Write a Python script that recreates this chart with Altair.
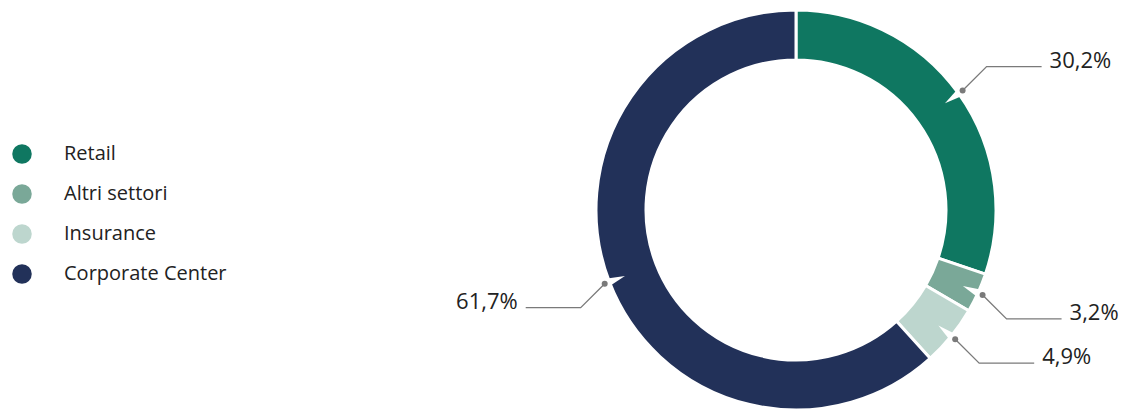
import math
import pandas as pd
import altair as alt

# ---- data ----
categories = ["Retail", "Altri settori", "Insurance", "Corporate Center"]
values = [30.2, 3.2, 4.9, 61.7]
labels = ["30,2%", "3,2%", "4,9%", "61,7%"]
colors = ["#0F7761", "#7AA898", "#BDD6CE", "#223159"]

# ---- layout constants ----
W, H = 1123, 409
CX, CY = 796, 210
R_OUT, R_IN = 200, 150
R_DOT = 205
DIAG = 24
HLEN = 55
GAP = 8

df = pd.DataFrame({"cat": categories, "val": values, "label": labels,
                   "idx": range(len(categories))})

rows_line, rows_dot, rows_txt = [], [], []
cum = 0.0
for c, v, lab in zip(categories, values, labels):
    mid = (cum + v / 2) / 100 * 360
    cum += v
    t = math.radians(mid)
    s, co = math.sin(t), math.cos(t)
    dx, dy = CX + R_DOT * s, CY - R_DOT * co
    hx = 1 if s > 0 else -1
    vy = -1 if co > 0 else 1
    ex, ey = dx + hx * DIAG, dy + vy * DIAG
    fx, fy = ex + hx * HLEN, ey
    rows_line += [{"cat": c, "o": 0, "x": dx, "y": dy},
                  {"cat": c, "o": 1, "x": ex, "y": ey},
                  {"cat": c, "o": 2, "x": fx, "y": fy}]
    rn = (R_OUT + 184) / 2
    rows_dot.append({"cat": c, "x": dx, "y": dy,
                     "nx": CX + rn * s, "ny": CY - rn * co, "ang": mid})
    rows_txt.append({"cat": c, "label": lab, "x": fx + hx * GAP, "y": fy + 1,
                     "side": "left" if hx > 0 else "right"})

lines = pd.DataFrame(rows_line)
dots = pd.DataFrame(rows_dot)
txt = pd.DataFrame(rows_txt)

xs = alt.Scale(domain=[0, W], nice=False, zero=False)
ys = alt.Scale(domain=[0, H], nice=False, zero=False, reverse=True)

arc = alt.Chart(df).mark_arc(innerRadius=R_IN, outerRadius=R_OUT,
                             stroke="white", strokeWidth=3).encode(
    theta=alt.Theta("val:Q", stack=True),
    order=alt.Order("idx:Q"),
    color=alt.Color("cat:N", sort=categories,
                    scale=alt.Scale(domain=categories, range=colors),
                    legend=alt.Legend(orient="none", legendX=12, legendY=144,
                                      title=None, symbolType="circle",
                                      symbolSize=380, symbolStrokeWidth=0,
                                      symbolOpacity=1, labelLimit=400,
                                      labelFontSize=20, labelFont="Open Sans",
                                      labelColor="#222222", labelOffset=32,
                                      rowPadding=20, padding=0)),
    x=alt.value(CX), y=alt.value(CY),
)

notch = alt.Chart(dots).mark_point(
    shape="M -0.45 -1 L 0.45 -1 L 0 1 Z", filled=True, fill="white",
    opacity=1, strokeWidth=0, size=300).encode(
    x=alt.X("nx:Q", scale=xs, axis=None),
    y=alt.Y("ny:Q", scale=ys, axis=None),
    angle=alt.Angle("ang:Q", scale=None),
)

leader = alt.Chart(lines).mark_line(color="#7a7a7a", strokeWidth=1.3).encode(
    x=alt.X("x:Q", scale=xs, axis=None),
    y=alt.Y("y:Q", scale=ys, axis=None),
    detail="cat:N",
    order="o:Q",
)

dot = alt.Chart(dots).mark_circle(color="#7a7a7a", opacity=1, size=36).encode(
    x=alt.X("x:Q", scale=xs, axis=None),
    y=alt.Y("y:Q", scale=ys, axis=None),
)

base_txt = alt.Chart(txt).encode(
    x=alt.X("x:Q", scale=xs, axis=None),
    y=alt.Y("y:Q", scale=ys, axis=None),
    text="label:N",
)
txt_l = base_txt.transform_filter(alt.datum.side == "left").mark_text(
    align="left", baseline="alphabetic", fontSize=22, font="Open Sans",
    color="#222222")
txt_r = base_txt.transform_filter(alt.datum.side == "right").mark_text(
    align="right", baseline="alphabetic", fontSize=22, font="Open Sans",
    color="#222222")

chart = alt.layer(arc, notch, leader, dot, txt_l, txt_r).properties(
    width=W, height=H, padding=0,
    autosize=alt.AutoSizeParams(type="none"),
).configure_view(stroke=None)

chart.save("out.html", embed_options={"renderer": "svg", "actions": False})
